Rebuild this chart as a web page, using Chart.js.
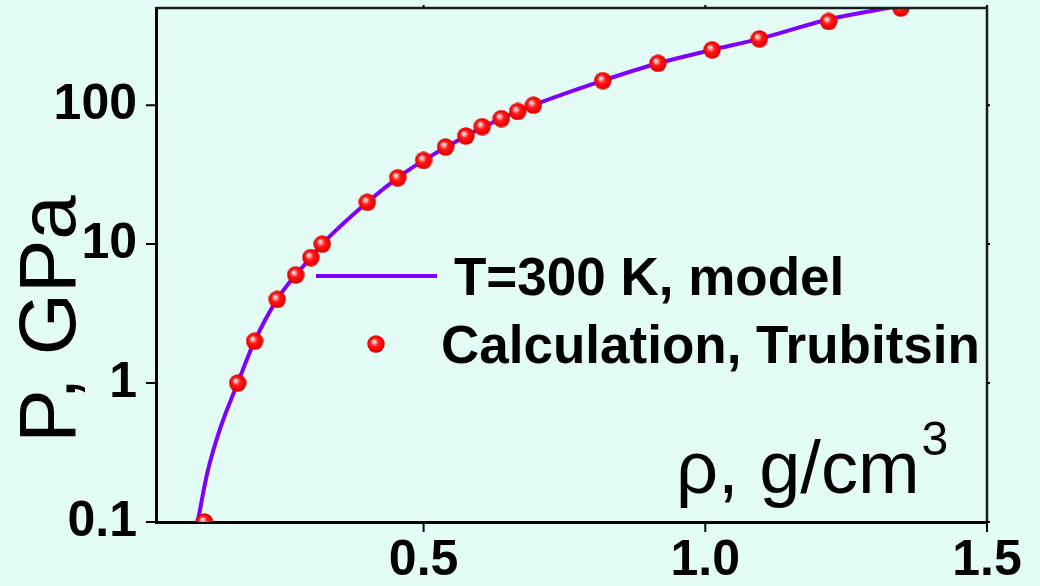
<!DOCTYPE html>
<html>
<head>
<meta charset="utf-8">
<script src="https://cdn.jsdelivr.net/npm/chart.js@4.4.0/dist/chart.umd.min.js"></script>
<style>
    html, body { margin: 0; padding: 0; background: #E3FCF6; }
    #wrap { width: 1040px; height: 586px; position: relative; }
</style>
</head>
<body>
<div id="wrap"><canvas id="eosChart"></canvas></div>
<script>
// Trubitsin calculation points (density g/cm3, pressure GPa)
const rhoCalc = [0.111, 0.170, 0.200, 0.240, 0.273, 0.300, 0.320, 0.400, 0.454, 0.500, 0.539,
                 0.575, 0.604, 0.638, 0.667, 0.695, 0.818, 0.916, 1.012, 1.096, 1.219, 1.347];
const pCalc = [0.1, 1, 2, 4, 6, 8, 10, 20, 30, 40, 50,
               60, 70, 80, 90, 100, 150, 200, 250, 300, 400, 500];

// T = 300 K model curve
const rhoModel = [0.099, 0.116, 0.138, 0.170, 0.200, 0.240, 0.273, 0.300, 0.320, 0.400, 0.454,
                  0.500, 0.575, 0.637, 0.695, 0.818, 0.916, 1.012, 1.096, 1.220, 1.324, 1.400];
const pModel = [0.1, 0.225, 0.46, 1.0, 2.0, 4.0, 6.0, 8.0, 10, 20, 30,
                40, 60, 80, 100, 150, 200, 250, 300, 415, 500, 570];

const seriesNames = ["T=300 K, model", "Calculation, Trubitsin"];
const xTickLabels = [0.5, 1.0, 1.5];
const yTickLabels = [0.1, 1, 10, 100];

const FONT = "'Liberation Sans', Arial, sans-serif";

// red glossy ball used for the calculation points
function makeSphere(d) {
    const c = document.createElement("canvas");
    c.width = d;
    c.height = d;
    const g = c.getContext("2d");
    const r = d / 2;
    const grad = g.createRadialGradient(r * 0.72, r * 0.68, 0, r, r, r);
    grad.addColorStop(0, "#ffffff");
    grad.addColorStop(0.18, "#ffb4b4");
    grad.addColorStop(0.45, "#ff1a1a");
    grad.addColorStop(0.85, "#f00000");
    grad.addColorStop(1, "#c40000");
    g.fillStyle = grad;
    g.beginPath();
    g.arc(r, r, r - 0.3, 0, Math.PI * 2);
    g.fill();
    return c;
}
const sphere = makeSphere(18);

function isLabelled(list, v) {
    return list.some(t => Math.abs(t - v) < 1e-6 * Math.max(1, t));
}

// axes frame, tick marks, titles and legend
const decorPlugin = {
    id: "decor",
    afterDraw(chart) {
        const ctx = chart.ctx;
        const a = chart.chartArea;
        const xs = chart.scales.x;
        const ys = chart.scales.y;
        ctx.save();

        // top and right frame
        ctx.strokeStyle = "#1a1a1a";
        ctx.lineWidth = 2.5;
        ctx.beginPath();
        ctx.moveTo(a.left, a.top);
        ctx.lineTo(a.right, a.top);
        ctx.lineTo(a.right, a.bottom + 1);
        ctx.stroke();

        ctx.strokeStyle = "#000";
        ctx.lineWidth = 2;
        // x ticks (0.1 steps), major at labelled values
        xs.ticks.forEach(t => {
            const v = t.value;
            if (Math.abs(v * 10 - Math.round(v * 10)) > 1e-6) return;
            const px = xs.getPixelForValue(v);
            const len = isLabelled(xTickLabels, v) ? 10 : 6;
            ctx.beginPath();
            ctx.moveTo(px, a.bottom);
            ctx.lineTo(px, a.bottom + len);
            ctx.moveTo(px, a.top);
            ctx.lineTo(px, a.top - 3);
            ctx.stroke();
        });
        // y ticks
        ys.ticks.forEach(t => {
            const v = t.value;
            const py = ys.getPixelForValue(v);
            if (py < a.top + 1) return;
            const len = isLabelled(yTickLabels, v) ? 10 : 5;
            ctx.beginPath();
            ctx.moveTo(a.left, py);
            ctx.lineTo(a.left - len, py);
            ctx.moveTo(a.right, py);
            ctx.lineTo(a.right + 3, py);
            ctx.stroke();
        });

        ctx.fillStyle = "#000";
        // y title
        ctx.save();
        ctx.translate(75, 319);
        ctx.rotate(-Math.PI / 2);
        ctx.font = "80px " + FONT;
        ctx.textAlign = "center";
        ctx.textBaseline = "alphabetic";
        ctx.fillText("P, GPa", 0, 0);
        ctx.restore();

        // x title inside the plot
        ctx.font = "74px " + FONT;
        ctx.textAlign = "left";
        ctx.textBaseline = "alphabetic";
        const xt = "\u03C1, g/cm";
        ctx.fillText(xt, 676, 493);
        const w = ctx.measureText(xt).width;
        ctx.font = "48px " + FONT;
        ctx.fillText("3", 676 + w + 2, 455);

        // legend
        const model = chart.data.datasets[0];
        ctx.strokeStyle = model.borderColor;
        ctx.lineWidth = model.borderWidth;
        ctx.beginPath();
        ctx.moveTo(316, 276);
        ctx.lineTo(437, 276);
        ctx.stroke();
        ctx.drawImage(sphere, 376 - sphere.width / 2, 344 - sphere.height / 2);
        ctx.font = "bold 53px " + FONT;
        ctx.fillText(seriesNames[0], 454, 295);
        ctx.fillText(seriesNames[1], 441, 363);

        ctx.restore();
    }
};

const canvas = document.getElementById("eosChart");
const chart = new Chart(canvas.getContext("2d"), {
    type: "line",
    data: {
        datasets: [
            {
                label: seriesNames[0],
                data: rhoModel.map((x, i) => ({ x, y: pModel[i] })),
                borderColor: "#7F00FF",
                borderWidth: 4,
                pointRadius: 0,
                cubicInterpolationMode: "monotone",
                fill: false,
                order: 2
            },
            {
                label: seriesNames[1],
                data: rhoCalc.map((x, i) => ({ x, y: pCalc[i] })),
                showLine: false,
                pointStyle: sphere,
                pointRadius: 9,
                order: 1
            }
        ]
    },
    options: {
        responsive: true,
        maintainAspectRatio: false,
        animation: false,
        layout: {
            autoPadding: false,
            padding: { left: 0, top: 8, right: 53, bottom: 0 }
        },
        plugins: {
            legend: { display: false },
            tooltip: { enabled: false },
            title: { display: false }
        },
        scales: {
            x: {
                type: "linear",
                min: 0.025,
                max: 1.5,
                grid: { display: false, drawTicks: false },
                border: { display: true, color: "#000", width: 3 },
                ticks: {
                    stepSize: 0.1,
                    autoSkip: false,
                    maxRotation: 0,
                    padding: 9,
                    color: "#000",
                    font: { family: FONT, size: 50, weight: "bold" },
                    callback: v => isLabelled(xTickLabels, v) ? v.toFixed(1) : null
                },
                afterFit: s => {
                    s.height = 64;
                    s.paddingLeft = 0;
                    s.paddingRight = 0;
                }
            },
            y: {
                type: "logarithmic",
                min: 0.1,
                max: 500,
                grid: { display: false, drawTicks: false },
                border: { display: true, color: "#000", width: 3 },
                ticks: {
                    autoSkip: false,
                    padding: 19,
                    color: "#000",
                    font: { family: FONT, size: 50, weight: "bold" },
                    callback: v => isLabelled(yTickLabels, v) ? String(v) : null
                },
                afterFit: s => {
                    s.width = 156;
                    s.paddingTop = 0;
                    s.paddingBottom = 0;
                }
            }
        }
    },
    plugins: [decorPlugin]
});
</script>
</body>
</html>
